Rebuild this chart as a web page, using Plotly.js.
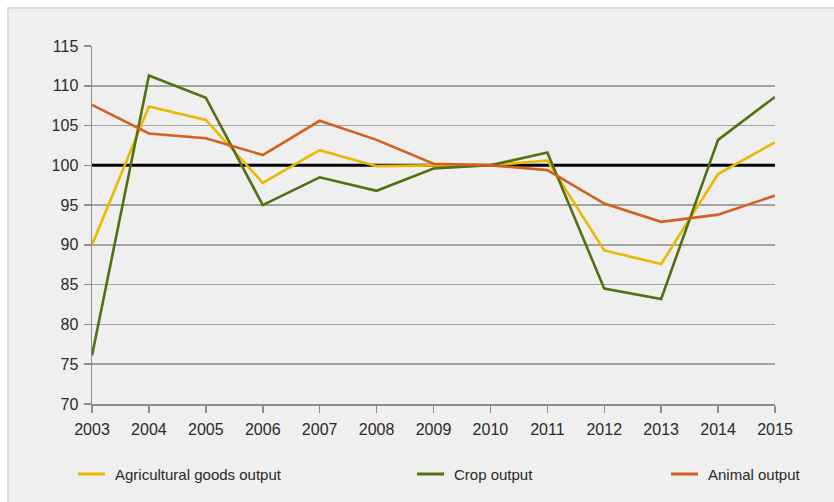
<!DOCTYPE html>
<html>
<head>
<meta charset="utf-8">
<script src="https://cdn.plot.ly/plotly-3.0.1.min.js"></script>
<style>
  html, body { margin: 0; padding: 0; background: #ffffff; }
  #panel { position: absolute; left: 7px; top: 7px; width: 829px; height: 497px;
           background: #efefef; border: 2px solid #dcdcdc; box-sizing: border-box; }
  #chart { position: absolute; left: 0; top: 0; width: 834px; height: 502px; }
</style>
</head>
<body>
<div id="panel"></div>
<div id="chart"></div>
<script>
const years = [2003, 2004, 2005, 2006, 2007, 2008, 2009, 2010, 2011, 2012, 2013, 2014, 2015];
const agricultural = [90.0, 107.4, 105.7, 97.8, 101.9, 99.9, 100.0, 100.0, 100.6, 89.3, 87.6, 98.9, 102.9];
const crop = [76.1, 111.3, 108.5, 95.0, 98.5, 96.8, 99.6, 100.0, 101.6, 84.5, 83.2, 103.2, 108.6];
const animal = [107.6, 104.0, 103.4, 101.3, 105.6, 103.2, 100.2, 100.0, 99.4, 95.2, 92.9, 93.8, 96.2];
const seriesNames = ["Agricultural goods output", "Crop output", "Animal output"];
const seriesColors = ["#e9b900", "#507012", "#d2601f"];
const baseline = 100;

const FONT = '"Liberation Sans", Arial, sans-serif';
const seriesData = [agricultural, crop, animal];

// baseline (index = 100) drawn first so the series lines sit on top of it
const baseTrace = {
  x: [years[0], years[years.length - 1]], y: [baseline, baseline],
  type: 'scatter', mode: 'lines', line: { color: '#000000', width: 3 },
  showlegend: false, hoverinfo: 'skip'
};

const traces = [baseTrace].concat(seriesData.map((vals, i) => ({
  x: years, y: vals, type: 'scatter', mode: 'lines',
  name: seriesNames[i],
  line: { color: seriesColors[i], width: 2.6 },
  showlegend: false, hoverinfo: 'x+y'
})));

// plot area geometry in px (for legend placement in paper coords)
const L = 92, R = 775, T = 46, B = 404;
const W = R - L, H = B - T;
const px = v => (v - L) / W;
const py = v => (B - v) / H;

const legendItems = [
  { lx0: 78, lx1: 105, tx: 113 },
  { lx0: 417, lx1: 444, tx: 452 },
  { lx0: 671, lx1: 698, tx: 706 }
];
const legendY = 474;

const shapes = [];
const annotations = [];
legendItems.forEach((it, i) => {
  shapes.push({
    type: 'line', xref: 'paper', yref: 'paper',
    x0: px(it.lx0), x1: px(it.lx1), y0: py(legendY), y1: py(legendY),
    line: { color: seriesColors[i], width: 3 }
  });
  annotations.push({
    xref: 'paper', yref: 'paper', x: px(it.tx), y: py(legendY),
    xanchor: 'left', yanchor: 'middle', showarrow: false,
    text: seriesNames[i], font: { family: FONT, size: 15, color: '#2a2a2a' }
  });
});

const layout = {
  width: 834, height: 502,
  margin: { l: L, r: 834 - R, t: T, b: 502 - B, pad: 0 },
  paper_bgcolor: 'rgba(0,0,0,0)',
  plot_bgcolor: 'rgba(0,0,0,0)',
  font: { family: FONT, size: 15, color: '#2a2a2a' },
  xaxis: {
    range: [2003, 2015], tickmode: 'array', tickvals: years, ticktext: years.map(String),
    showgrid: false, zeroline: false,
    showline: true, linecolor: '#8c8c8c', linewidth: 1.5,
    ticks: 'outside', ticklen: 7, tickwidth: 1.5, tickcolor: '#8c8c8c',
    ticklabelstandoff: 3,
    tickfont: { family: FONT, size: 16, color: '#2a2a2a' }
  },
  yaxis: {
    range: [70, 115], dtick: 5, tick0: 70,
    showgrid: true, gridcolor: '#a3a3a3', gridwidth: 1.5, zeroline: false,
    showline: true, linecolor: '#8c8c8c', linewidth: 1.5,
    ticks: 'outside', ticklen: 7, tickwidth: 1.5, tickcolor: '#8c8c8c',
    ticklabelstandoff: 2,
    tickfont: { family: FONT, size: 16, color: '#2a2a2a' }
  },
  shapes: shapes,
  annotations: annotations,
  showlegend: false
};

Plotly.newPlot('chart', traces, layout, { displayModeBar: false, staticPlot: true });
</script>
</body>
</html>
